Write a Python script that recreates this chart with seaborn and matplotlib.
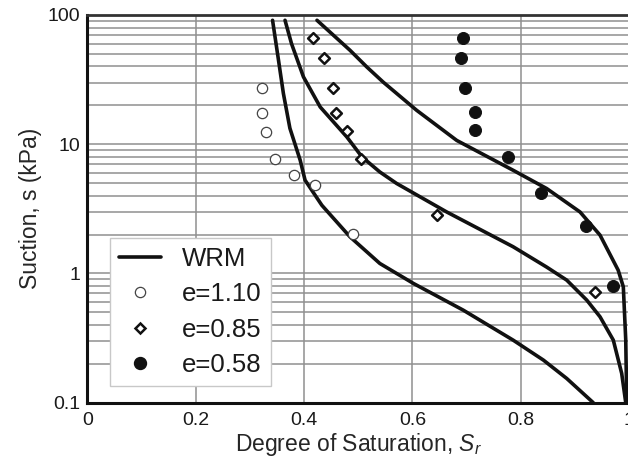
import numpy as np
import pandas as pd
import matplotlib
matplotlib.use("Agg")
import matplotlib.pyplot as plt
from matplotlib.lines import Line2D
from matplotlib.ticker import FixedLocator, LogLocator, FuncFormatter, NullFormatter
import seaborn as sns

# WRM model curves (degree of saturation vs suction)
wrm_110_sr = [0.342, 0.353, 0.362, 0.374, 0.393, 0.402, 0.433, 0.485, 0.540, 0.602, 0.694, 0.786, 0.842, 0.885, 0.934]
wrm_110_s = [91, 44.6, 24.7, 13.3, 7.52, 5.27, 3.37, 1.92, 1.195, 0.837, 0.520, 0.305, 0.2135, 0.154, 0.100]

wrm_085_sr = [0.365, 0.377, 0.399, 0.430, 0.479, 0.507, 0.540, 0.571, 0.6635, 0.786, 0.848, 0.885, 0.922, 0.9465, 0.971, 0.9865, 0.994]
wrm_085_s = [91, 60, 33.2, 19.4, 11.4, 7.98, 6.10, 4.97, 2.99, 1.61, 1.12, 0.888, 0.622, 0.462, 0.305, 0.1685, 0.100]

wrm_058_sr = [0.424, 0.485, 0.516, 0.546, 0.608, 0.682, 0.786, 0.848, 0.9096, 0.9465, 0.980, 0.9895, 0.994, 0.9958]
wrm_058_s = [91, 53.3, 39.6, 30.3, 18.3, 10.7, 6.29, 4.54, 2.99, 1.98, 1.06, 0.788, 0.305, 0.100]

# measured data
e110_sr = [0.322, 0.323, 0.329, 0.346, 0.382, 0.421, 0.490]
e110_s = [27.1, 17.4, 12.5, 7.62, 5.76, 4.82, 2.01]

e085_sr = [0.417, 0.437, 0.454, 0.460, 0.480, 0.506, 0.645, 0.938]
e085_s = [66, 46.7, 27.3, 17.5, 12.6, 7.72, 2.85, 0.713]

e058_sr = [0.694, 0.690, 0.697, 0.716, 0.716, 0.776, 0.838, 0.921, 0.970]
e058_s = [66.4, 46.8, 27.3, 17.6, 12.8, 7.97, 4.16, 2.31, 0.80]

sns.set_style("white")
plt.rcParams['font.family'] = ['Liberation Sans', 'DejaVu Sans']
plt.rcParams['mathtext.fontset'] = 'custom'
plt.rcParams['mathtext.rm'] = 'Liberation Sans'
plt.rcParams['mathtext.it'] = 'Liberation Sans:italic'
plt.rcParams['text.color'] = '#1a1a1a'

curves = pd.concat([
    pd.DataFrame({'Sr': wrm_110_sr, 's': wrm_110_s, 'curve': 'e=1.10'}),
    pd.DataFrame({'Sr': wrm_085_sr, 's': wrm_085_s, 'curve': 'e=0.85'}),
    pd.DataFrame({'Sr': wrm_058_sr, 's': wrm_058_s, 'curve': 'e=0.58'}),
], ignore_index=True)

fig = plt.figure(figsize=(6.28, 4.61), dpi=100)
ax = fig.add_axes([0.139, 0.1265, 0.8626, 0.841])
ax.set_yscale('log')

# grid
ax.set_xlim(0, 1)
ax.set_ylim(0.1, 100)
ax.xaxis.set_major_locator(FixedLocator([0, 0.2, 0.4, 0.6, 0.8, 1.0]))
ax.xaxis.set_minor_locator(FixedLocator([0.1, 0.3, 0.5, 0.7, 0.9]))
ax.yaxis.set_major_locator(LogLocator(base=10))
ax.yaxis.set_minor_locator(LogLocator(base=10, subs=np.arange(2, 10)))
ax.yaxis.set_minor_formatter(NullFormatter())
ax.xaxis.set_major_formatter(FuncFormatter(lambda v, p: '{:g}'.format(round(v, 2))))
ax.yaxis.set_major_formatter(FuncFormatter(lambda v, p: '{:g}'.format(v)))
ax.grid(True, which='major', axis='x', color='#8f8f8f', lw=1.1)
ax.grid(True, which='both', axis='y', color='#8f8f8f', lw=1.1)
ax.set_axisbelow(True)

sns.lineplot(data=curves, x='Sr', y='s', units='curve', estimator=None, sort=False,
             color='#111111', lw=2.6, ax=ax, legend=False)
sns.scatterplot(x=e110_sr, y=e110_s, marker='o', s=55, facecolor='white',
                edgecolor='#444444', linewidth=0.9, ax=ax, zorder=5)
sns.scatterplot(x=e085_sr, y=e085_s, marker='D', s=30, facecolor='white',
                edgecolor='#111111', linewidth=1.8, ax=ax, zorder=5)
sns.scatterplot(x=e058_sr, y=e058_s, marker='o', s=75, color='#111111',
                edgecolor='#111111', ax=ax, zorder=5)

ax.set_xlabel(r'Degree of Saturation, $S_r$', fontsize=16.5, labelpad=1)
ax.set_ylabel('Suction, s (kPa)', fontsize=16.5, labelpad=4)
ax.tick_params(axis='both', which='major', direction='in', length=6.5, width=1.5,
               labelsize=14, colors='#111111', labelcolor='#1a1a1a')
ax.tick_params(axis='both', which='minor', direction='in', length=4.5, width=1.5,
               colors='#111111')
ax.tick_params(axis='x', which='major', pad=7)
ax.tick_params(axis='y', which='major', pad=5)
ax.tick_params(axis='x', which='both', top=False)
ax.tick_params(axis='y', which='both', right=False)

for side in ['left', 'bottom']:
    ax.spines[side].set_linewidth(2.2)
    ax.spines[side].set_color('#111111')
ax.spines['top'].set_linewidth(2.0)
ax.spines['top'].set_color('#333333')
ax.spines['right'].set_linewidth(2.0)
ax.spines['right'].set_color('#111111')

handles = [
    Line2D([], [], color='#111111', lw=2.6),
    Line2D([], [], ls='', marker='o', ms=7.4, mfc='white', mec='#444444', mew=0.9),
    Line2D([], [], ls='', marker='D', ms=5.5, mfc='white', mec='#111111', mew=1.8),
    Line2D([], [], ls='', marker='o', ms=8.6, mfc='#111111', mec='#111111'),
]
labels = ['WRM', 'e=1.10', 'e=0.85', 'e=0.58']
leg = ax.legend(handles, labels, loc='lower left', bbox_to_anchor=(0.042, 0.043),
                borderaxespad=0, fontsize=18.5, frameon=True, fancybox=False,
                framealpha=1, edgecolor='#c8c8c8', handlelength=1.65,
                handletextpad=0.8, labelspacing=0.44, borderpad=0.35)
leg.get_frame().set_linewidth(1.0)

fig.savefig('out.png', dpi=100)
